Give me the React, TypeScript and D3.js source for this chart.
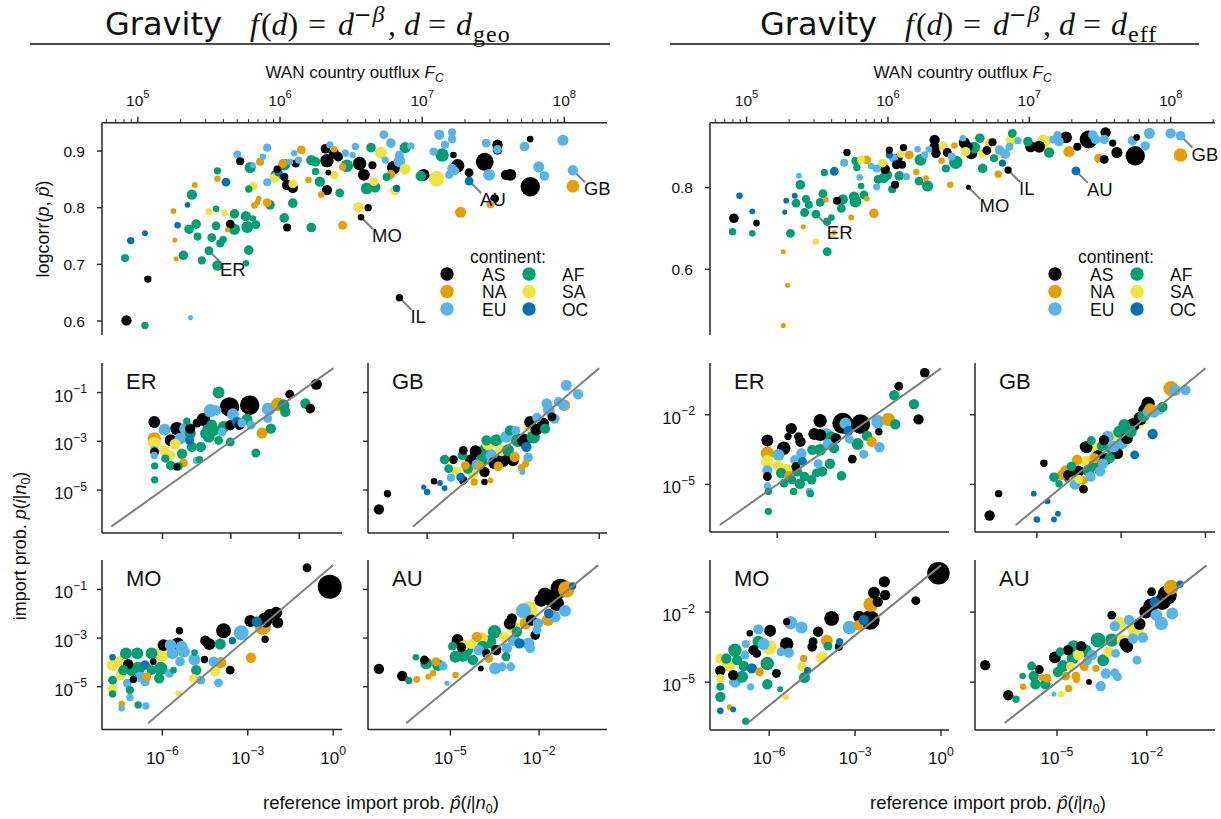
import React from "react";
import * as d3 from "d3";

type Pt = [number, number, string, number];
type Lab = [string, number, number];

// ---------- categories ----------
const continents = ["AS", "NA", "EU", "AF", "SA", "OC"];
const continentColors = ["#000000", "#E69F00", "#56B4E9", "#009E73", "#F0E442", "#0072B2"];

// ---------- tick labels ----------
const outfluxTicks = [5, 6, 7, 8];
const geoCorrTicks = [0.6, 0.7, 0.8, 0.9];
const effCorrTicks = [0.6, 0.8];
const geoProbTicksY = [-1, -3, -5];
const effProbTicksY = [-2, -5];
const geoTicksX = { ER: [-5, -3, -1], GB: [-6, -3, 0], MO: [-6, -3, 0], AU: [-5, -2] };
const effTicksX = { ER: [-5, -2], GB: [-6, -3, 0], MO: [-6, -3, 0], AU: [-5, -2] };

// ---------- top panels: [log10 F_C, logcorr, continent, size] ----------
const geoCorr: Pt[] = [
  [4.92,0.601,"AS",10],[5.05,0.592,"AF",6],[5.07,0.674,"AS",6],[4.91,0.711,"AF",7],[4.95,0.742,"OC",6],
  [5.05,0.755,"OC",4],[5.28,0.769,"OC",5],[5.35,0.805,"OC",4],[5.37,0.606,"EU",3],[5.25,0.794,"NA",4],
  [5.26,0.743,"NA",3],[5.27,0.710,"NA",3],[5.32,0.716,"AF",9],[5.36,0.762,"AF",9],[5.38,0.823,"AF",10],
  [5.40,0.840,"NA",4],[5.41,0.771,"AF",9],[5.42,0.749,"AF",7],[5.45,0.707,"AF",7],[5.50,0.724,"AF",8],
  [5.56,0.698,"AF",10],[5.50,0.793,"SA",6],[5.52,0.747,"AF",8],[5.55,0.798,"AF",5],[5.55,0.768,"AF",8],
  [5.56,0.865,"AF",6],[5.56,0.851,"NA",5],[5.58,0.737,"AF",7],[5.60,0.744,"AF",6],[5.61,0.791,"SA",5],
  [5.62,0.845,"OC",8],[5.63,0.761,"NA",3],[5.65,0.771,"AS",8],[5.68,0.789,"AF",9],[5.68,0.762,"AF",11],
  [5.70,0.894,"EU",7],[5.72,0.882,"AS",7],[5.76,0.702,"AF",5],[5.76,0.785,"AF",10],[5.77,0.766,"AF",12],
  [5.78,0.833,"AF",6],[5.78,0.725,"AF",9],[5.79,0.871,"AF",11],[5.81,0.875,"EU",4],[5.81,0.838,"SA",8],
  [5.81,0.781,"AF",5],[5.82,0.804,"NA",5],[5.83,0.770,"AF",8],[5.84,0.809,"NA",4],[5.85,0.816,"NA",4],
  [5.86,0.881,"NA",7],[5.88,0.890,"EU",5],[5.91,0.906,"EU",7],[5.91,0.845,"EU",7],[5.91,0.809,"NA",8],
  [5.93,0.805,"AF",9],[5.96,0.852,"SA",9],[5.97,0.858,"AF",10],[5.98,0.868,"AS",6],[5.99,0.862,"OC",7],
  [6.02,0.878,"NA",8],[6.03,0.854,"AS",7],[6.03,0.876,"AF",12],[6.03,0.782,"AF",9],[6.05,0.765,"AS",7],
  [6.05,0.840,"AS",10],[6.07,0.881,"EU",5],[6.09,0.842,"SA",8],[6.09,0.835,"AS",10],[6.09,0.808,"AF",9],
  [6.10,0.896,"EU",5],[6.11,0.878,"AS",7],[6.13,0.884,"EU",6],[6.15,0.902,"NA",8],[6.20,0.849,"NA",5],
  [6.22,0.765,"AF",9],[6.22,0.884,"AF",10],[6.25,0.881,"AF",9],[6.25,0.864,"AF",6],[6.28,0.846,"AF",10],
  [6.29,0.823,"NA",5],[6.32,0.904,"AS",9],[6.33,0.831,"AS",10],[6.33,0.883,"AS",14],[6.34,0.862,"AS",4],
  [6.35,0.911,"EU",6],[6.38,0.858,"SA",8],[6.38,0.903,"NA",5],[6.38,0.896,"AS",10],[6.41,0.890,"AS",9],
  [6.42,0.826,"AF",8],[6.44,0.872,"NA",6],[6.44,0.769,"NA",8],[6.46,0.896,"EU",6],[6.47,0.874,"AF",13],
  [6.51,0.893,"EU",5],[6.53,0.908,"EU",6],[6.56,0.878,"AS",14],[6.57,0.783,"AS",5],[6.55,0.801,"SA",10],
  [6.59,0.858,"AS",12],[6.62,0.800,"AS",6],[6.61,0.834,"AF",12],[6.64,0.906,"AF",9],[6.65,0.875,"AS",7],
  [6.66,0.846,"SA",8],[6.67,0.836,"AF",10],[6.71,0.897,"SA",12],[6.73,0.929,"EU",8],[6.75,0.854,"AF",7],
  [6.74,0.884,"EU",6],[6.78,0.914,"EU",9],[6.78,0.859,"NA",8],[6.80,0.871,"AS",14],[6.81,0.831,"SA",10],
  [6.82,0.834,"OC",6],[6.84,0.882,"EU",12],[6.84,0.893,"EU",8],[6.88,0.868,"SA",11],[6.88,0.906,"AF",11],
  [6.92,0.909,"EU",6],[6.99,0.856,"AF",10],[7.01,0.858,"AS",12],[7.10,0.851,"SA",17],[7.08,0.899,"EU",7],
  [7.12,0.929,"EU",10],[7.14,0.893,"AF",14],[7.16,0.911,"EU",7],[7.19,0.858,"EU",7],[7.21,0.921,"EU",7],
  [7.21,0.869,"EU",9],[7.21,0.933,"EU",7],[7.22,0.893,"AS",5],[7.23,0.865,"EU",8],[7.25,0.874,"AS",14],
  [7.27,0.792,"NA",11],[7.33,0.847,"OC",8],[7.33,0.862,"AS",8],[7.44,0.881,"AS",20],[7.45,0.914,"EU",8],
  [7.47,0.858,"EU",12],[7.48,0.806,"NA",7],[7.51,0.816,"AS",8],[7.53,0.911,"AS",10],[7.53,0.902,"AS",9],
  [7.53,0.903,"EU",8],[7.59,0.858,"AS",10],[7.62,0.858,"AS",12],[7.72,0.908,"EU",9],[7.76,0.837,"AS",22],
  [7.76,0.921,"AS",5],[7.82,0.872,"EU",11],[7.86,0.856,"EU",9],[7.99,0.919,"EU",11],[8.06,0.866,"EU",10],
  [8.06,0.838,"NA",13],[6.84,0.641,"AS",6],
];
const geoLabels: Lab[] = [["ER",5.50,0.724],["MO",6.57,0.783],["IL",6.84,0.641],["AU",7.33,0.847],["GB",8.06,0.866]];

const effCorr: Pt[] = [
  [4.91,0.725,"AS",9],[4.90,0.692,"AF",6],[4.95,0.780,"OC",5],[5.04,0.742,"OC",4],[5.07,0.713,"AS",5],
  [5.04,0.688,"AF",5],[5.26,0.643,"NA",3],[5.26,0.462,"NA",3],[5.29,0.561,"NA",3],[5.27,0.740,"OC",3],
  [5.28,0.768,"OC",4],[5.31,0.688,"AF",8],[5.34,0.780,"OC",4],[5.35,0.762,"AF",8],[5.37,0.829,"EU",4],
  [5.38,0.807,"AF",9],[5.41,0.739,"AF",8],[5.40,0.704,"NA",3],[5.42,0.772,"AF",7],[5.44,0.758,"AF",7],
  [5.49,0.668,"SA",5],[5.49,0.735,"AF",8],[5.52,0.764,"AF",8],[5.54,0.785,"AF",8],[5.55,0.837,"AF",6],
  [5.56,0.770,"NA",4],[5.57,0.643,"AF",8],[5.57,0.717,"AF",7],[5.60,0.727,"AF",5],[5.60,0.684,"SA",4],
  [5.62,0.840,"OC",8],[5.62,0.690,"NA",3],[5.64,0.768,"AS",7],[5.67,0.749,"AF",8],[5.68,0.771,"AF",10],
  [5.69,0.861,"EU",7],[5.71,0.886,"AS",6],[5.74,0.727,"NA",4],[5.76,0.778,"AF",10],[5.77,0.766,"AF",12],
  [5.77,0.865,"AF",7],[5.78,0.849,"AF",6],[5.81,0.868,"SA",7],[5.80,0.825,"EU",5],[5.81,0.804,"AF",5],
  [5.83,0.782,"AF",8],[5.85,0.868,"NA",8],[5.85,0.773,"NA",4],[5.88,0.853,"EU",5],[5.90,0.737,"NA",9],
  [5.92,0.847,"EU",7],[5.93,0.820,"AF",8],[5.92,0.802,"EU",6],[5.96,0.860,"SA",8],[5.97,0.824,"AF",10],
  [5.98,0.845,"AS",9],[5.99,0.831,"AF",11],[6.01,0.880,"OC",6],[6.01,0.892,"AS",6],[6.03,0.796,"AF",7],
  [6.04,0.872,"EU",8],[6.05,0.807,"AS",7],[6.06,0.856,"AS",8],[6.07,0.872,"AS",9],[6.08,0.829,"AF",9],
  [6.09,0.882,"SA",6],[6.10,0.856,"AS",7],[6.11,0.898,"AS",6],[6.13,0.827,"EU",6],[6.15,0.880,"NA",8],
  [6.20,0.838,"NA",5],[6.21,0.894,"EU",5],[6.22,0.816,"AF",8],[6.23,0.868,"AF",12],[6.26,0.880,"EU",6],
  [6.27,0.823,"NA",4],[6.28,0.804,"AF",11],[6.29,0.894,"EU",5],[6.33,0.917,"AS",10],[6.33,0.899,"AS",10],
  [6.34,0.884,"AS",9],[6.38,0.866,"NA",5],[6.39,0.902,"SA",8],[6.41,0.847,"AF",7],[6.42,0.886,"AS",8],
  [6.44,0.807,"NA",5],[6.45,0.876,"EU",7],[6.47,0.903,"NA",5],[6.48,0.862,"AF",14],[6.53,0.921,"EU",5],
  [6.54,0.910,"AS",11],[6.55,0.888,"SA",9],[6.56,0.900,"AS",11],[6.59,0.884,"AS",12],[6.61,0.898,"AF",12],
  [6.65,0.921,"AF",9],[6.57,0.801,"AS",3],[6.67,0.847,"AF",9],[6.67,0.884,"SA",8],[6.70,0.891,"AS",8],
  [6.72,0.909,"SA",10],[6.74,0.911,"AS",7],[6.75,0.872,"AF",7],[6.78,0.833,"NA",6],[6.79,0.892,"EU",9],
  [6.80,0.886,"SA",11],[6.81,0.860,"OC",6],[6.83,0.882,"EU",9],[6.85,0.843,"AS",6],[6.87,0.918,"SA",10],
  [6.88,0.933,"AF",8],[6.86,0.900,"EU",7],[6.92,0.915,"EU",6],[6.99,0.913,"AF",9],[7.01,0.900,"AS",11],
  [7.07,0.900,"AS",12],[7.10,0.913,"SA",15],[7.14,0.886,"AF",10],[7.17,0.918,"EU",7],[7.20,0.929,"EU",7],
  [7.21,0.913,"EU",9],[7.26,0.923,"AS",12],[7.28,0.888,"NA",11],[7.33,0.841,"OC",8],[7.34,0.900,"AS",7],
  [7.42,0.918,"AS",20],[7.45,0.929,"EU",9],[7.47,0.918,"EU",9],[7.49,0.872,"NA",8],[7.53,0.869,"AS",8],
  [7.53,0.918,"EU",9],[7.54,0.935,"AS",10],[7.59,0.909,"AS",6],[7.62,0.886,"AS",11],[7.73,0.915,"EU",9],
  [7.76,0.923,"AS",5],[7.75,0.878,"AS",22],[7.82,0.902,"EU",9],[7.85,0.933,"EU",11],[8.00,0.933,"EU",10],
  [8.07,0.927,"EU",9],[8.07,0.880,"NA",14],
];
const effLabels: Lab[] = [["ER",5.49,0.735],["MO",6.57,0.801],["IL",6.85,0.843],["AU",7.33,0.841],["GB",8.07,0.927]];

// ---------- small panels: [log10 ref prob, log10 import prob, continent, size] ----------
const geoER: Pt[] = [
  [-5.24,-2.21,"AS",12],[-5.24,-2.90,"NA",14],[-5.24,-3.07,"SA",13],[-5.24,-3.37,"EU",8],[-5.24,-3.58,"EU",6],
  [-5.23,-4.01,"AF",6],[-5.23,-4.58,"AF",6],[-5.23,-3.44,"AS",8],[-4.94,-2.52,"EU",12],[-4.95,-3.37,"SA",10],
  [-4.92,-3.71,"AF",7],[-4.78,-3.58,"SA",10],[-4.76,-3.99,"AF",9],[-4.76,-2.96,"AS",12],[-4.63,-3.12,"SA",11],
  [-4.58,-2.48,"AS",14],[-4.53,-4.03,"AF",7],[-4.48,-2.89,"EU",12],[-4.43,-3.51,"AF",10],[-4.39,-3.89,"NA",8],
  [-4.34,-2.48,"EU",12],[-4.29,-2.18,"AF",6],[-4.21,-2.96,"OC",8],[-4.19,-2.68,"AF",11],[-4.14,-3.23,"AF",10],
  [-4.01,-3.78,"EU",6],[-3.92,-3.75,"AF",6],[-3.88,-3.23,"AF",10],[-3.80,-2.10,"AS",14],[-3.75,-2.68,"AF",10],
  [-3.65,-2.82,"AF",12],[-3.60,-1.75,"EU",14],[-3.51,-2.55,"AF",12],[-3.43,-1.73,"EU",10],[-3.36,-1.00,"AF",12],
  [-3.36,-2.96,"AF",8],[-3.26,-2.62,"EU",8],[-3.21,-2.41,"AF",12],[-3.04,-1.59,"AS",22],[-3.02,-2.34,"AS",10],
  [-3.02,-3.03,"AF",8],[-2.94,-1.89,"EU",12],[-2.82,-2.21,"OC",10],[-2.75,-2.34,"AS",9],[-2.53,-2.10,"AF",11],
  [-2.45,-1.52,"AS",22],[-2.41,-2.34,"EU",8],[-2.27,-3.48,"AF",8],[-2.09,-2.66,"NA",11],[-1.92,-2.07,"EU",8],
  [-1.90,-1.68,"EU",14],[-1.83,-2.48,"AF",10],[-1.63,-1.48,"NA",14],[-1.46,-1.52,"AF",12],[-1.41,-1.79,"AF",10],
  [-1.28,-1.07,"AS",8],[-0.82,-1.45,"AF",10],[-0.68,-1.66,"AS",9],[-0.50,-0.66,"AS",11],[-4.58,-4.05,"AS",6],
  [-3.99,-2.25,"AS",8],[-4.19,-2.48,"AS",10],[-3.70,-2.48,"AF",8],[-3.56,-2.32,"AF",10],[-2.68,-2.25,"EU",8],
];
const geoGB: Pt[] = [
  [-7.68,-5.79,"AS",10],[-7.38,-5.15,"AS",6],[-6.12,-4.88,"OC",3],[-6.00,-5.08,"OC",5],[-5.76,-4.64,"AS",5],
  [-5.55,-4.71,"OC",4],[-5.39,-3.75,"AF",9],[-5.39,-4.92,"OC",4],[-5.17,-4.49,"EU",7],[-5.08,-3.75,"AS",8],
  [-4.98,-4.23,"SA",9],[-4.77,-3.58,"AF",9],[-4.74,-4.60,"AS",8],[-4.83,-4.47,"OC",8],[-4.58,-4.12,"AF",10],
  [-4.47,-3.78,"AS",12],[-4.40,-4.33,"SA",11],[-4.36,-4.67,"NA",6],[-4.31,-3.41,"AS",12],[-4.27,-3.95,"EU",10],
  [-4.17,-3.99,"NA",8],[-4.09,-3.75,"AF",12],[-4.00,-4.26,"AS",10],[-4.00,-4.67,"AS",5],[-3.95,-3.34,"AF",14],
  [-3.86,-3.10,"SA",14],[-3.76,-3.58,"EU",12],[-3.66,-3.89,"AS",12],[-3.59,-2.96,"AF",12],[-3.52,-4.03,"NA",9],
  [-3.41,-3.37,"SA",12],[-3.36,-3.78,"AS",14],[-3.25,-2.82,"EU",12],[-3.18,-3.37,"AF",12],[-3.11,-2.55,"AF",10],
  [-3.01,-3.78,"AS",12],[-2.95,-3.64,"NA",10],[-2.84,-2.96,"AF",14],[-2.71,-4.08,"NA",6],[-2.68,-4.26,"EU",4],
  [-2.64,-2.96,"AS",14],[-2.54,-3.23,"OC",10],[-2.48,-3.67,"EU",9],[-2.44,-2.38,"SA",12],[-2.41,-2.21,"AS",12],
  [-2.30,-2.82,"AF",14],[-2.19,-2.52,"AS",12],[-2.17,-2.03,"EU",9],[-1.96,-2.27,"AS",12],[-1.89,-2.48,"AF",10],
  [-1.83,-1.45,"EU",10],[-1.76,-1.73,"EU",12],[-1.65,-2.00,"AS",8],[-1.56,-2.07,"EU",10],[-1.22,-1.52,"NA",12],
  [-1.24,-1.52,"EU",10],[-1.15,-0.70,"EU",11],[-0.74,-1.07,"EU",10],[-1.42,-1.38,"EU",9],[-5.25,-4.12,"AF",8],
  [-4.67,-3.99,"NA",8],[-3.79,-4.60,"NA",4],[-2.57,-3.92,"NA",6],[-3.93,-2.96,"AF",10],[-2.91,-2.55,"EU",8],
  [-4.74,-3.37,"AS",8],
];
const geoMO: Pt[] = [
  [-7.75,-3.79,"OC",5],[-7.75,-4.11,"SA",12],[-7.75,-4.73,"AF",8],[-7.75,-5.11,"SA",10],[-7.75,-5.30,"AF",6],
  [-7.46,-3.97,"SA",12],[-7.46,-4.52,"SA",10],[-7.43,-5.71,"NA",5],[-7.43,-5.89,"EU",5],[-7.28,-3.63,"AF",12],
  [-7.20,-4.07,"AS",10],[-7.14,-5.14,"AF",7],[-7.14,-5.44,"EU",6],[-7.08,-4.32,"AF",12],[-7.02,-4.70,"AS",6],
  [-7.23,-4.86,"EU",8],[-6.85,-5.75,"AF",6],[-6.85,-4.25,"AF",14],[-6.61,-4.79,"EU",9],[-6.61,-4.11,"OC",9],
  [-6.58,-5.79,"EU",6],[-6.55,-4.59,"NA",8],[-6.38,-3.63,"AF",12],[-6.38,-4.32,"AF",9],[-6.32,-3.97,"AS",5],
  [-6.11,-4.66,"AF",10],[-6.06,-4.25,"AF",14],[-6.02,-3.66,"SA",16],[-5.96,-3.29,"AS",12],[-5.75,-4.45,"EU",8],
  [-5.71,-3.29,"EU",12],[-5.64,-3.63,"EU",12],[-5.61,-4.32,"AF",5],[-5.46,-3.25,"AS",14],[-5.44,-5.27,"SA",4],
  [-5.38,-3.97,"EU",9],[-5.32,-3.36,"EU",12],[-5.24,-3.56,"EU",12],[-5.40,-2.70,"AS",6],[-4.88,-3.88,"EU",12],
  [-4.87,-3.60,"AF",5],[-4.81,-4.32,"AF",10],[-4.91,-4.66,"SA",8],[-4.65,-4.73,"EU",8],[-4.52,-3.88,"AS",6],
  [-4.49,-3.11,"AS",10],[-4.35,-3.25,"AS",12],[-4.20,-3.97,"EU",10],[-4.15,-4.34,"SA",11],[-4.03,-4.84,"EU",8],
  [-3.97,-3.25,"AF",11],[-3.95,-4.01,"NA",11],[-3.85,-2.70,"AS",16],[-3.62,-4.32,"AS",8],[-3.54,-3.11,"OC",6],
  [-3.23,-2.78,"EU",16],[-2.89,-3.81,"NA",10],[-2.91,-2.30,"AS",12],[-2.68,-2.33,"OC",10],[-2.47,-2.53,"NA",18],
  [-2.39,-3.05,"AS",6],[-2.39,-2.26,"AS",16],[-2.23,-2.05,"AS",12],[-2.00,-1.96,"AS",12],[-1.95,-2.37,"AS",11],
  [-0.92,-0.11,"AS",8],[-0.12,-0.89,"AS",28],[-6.88,-3.63,"AF",12],[-7.37,-4.32,"AF",10],[-6.79,-4.59,"EU",10],
];
const geoAU: Pt[] = [
  [-7.42,-4.27,"AS",10],[-6.63,-4.56,"AS",10],[-6.41,-4.75,"AF",6],[-6.17,-3.79,"AF",5],[-6.14,-4.70,"NA",5],
  [-5.88,-3.90,"AS",8],[-5.82,-4.04,"AF",12],[-5.75,-4.59,"NA",4],[-5.59,-4.45,"NA",5],[-5.49,-3.97,"NA",8],
  [-5.42,-4.11,"AF",12],[-5.25,-4.15,"EU",8],[-5.12,-4.86,"EU",3],[-4.83,-4.52,"NA",5],[-4.76,-3.08,"AS",12],
  [-4.93,-3.33,"AF",8],[-4.83,-3.77,"AF",12],[-4.57,-3.70,"AF",14],[-4.54,-3.30,"SA",10],[-4.43,-3.49,"AF",12],
  [-4.30,-3.25,"SA",9],[-4.24,-3.90,"AF",10],[-4.11,-2.95,"NA",10],[-3.93,-3.01,"SA",12],[-3.91,-3.36,"AF",12],
  [-3.78,-3.63,"AS",8],[-3.97,-4.25,"AS",4],[-3.71,-3.84,"NA",8],[-3.67,-3.15,"AF",14],[-3.51,-2.74,"AF",14],
  [-3.49,-4.25,"EU",12],[-3.45,-3.49,"AS",10],[-3.25,-4.18,"EU",8],[-3.18,-2.95,"SA",10],[-3.12,-3.77,"AF",8],
  [-3.09,-3.42,"EU",10],[-2.99,-2.40,"AS",12],[-2.96,-4.18,"EU",8],[-2.86,-3.08,"EU",12],[-2.92,-2.19,"AS",10],
  [-2.88,-2.56,"SA",14],[-2.75,-2.74,"AF",10],[-2.66,-3.22,"OC",10],[-2.53,-1.88,"EU",16],[-2.46,-2.40,"NA",12],
  [-2.36,-3.22,"EU",12],[-2.33,-1.82,"SA",18],[-2.30,-3.42,"EU",9],[-2.26,-2.26,"AS",11],[-2.13,-2.88,"AS",9],
  [-2.07,-2.67,"EU",8],[-1.93,-1.44,"AS",14],[-1.80,-1.23,"AS",16],[-1.67,-1.99,"OC",9],[-1.70,-2.26,"NA",12],
  [-1.54,-1.37,"AS",20],[-1.47,-2.12,"EU",12],[-1.28,-0.96,"AS",22],[-1.12,-1.88,"EU",12],[-1.08,-1.00,"NA",18],
  [-0.86,-0.86,"OC",6],[-1.41,-1.58,"AS",16],[-2.04,-2.40,"EU",10],[-4.04,-3.49,"EU",10],[-4.63,-3.38,"AS",9],
];
const effER: Pt[] = [
  [-5.30,-3.11,"AS",12],[-5.30,-3.66,"NA",14],[-5.30,-4.01,"SA",13],[-5.30,-4.40,"EU",10],[-5.30,-4.66,"AS",8],
  [-5.30,-5.06,"EU",6],[-5.27,-5.30,"AF",6],[-5.27,-6.16,"AF",6],[-4.98,-4.20,"SA",11],[-4.96,-3.73,"EU",12],
  [-4.88,-4.51,"AF",10],[-4.80,-3.44,"AS",14],[-4.79,-4.94,"AF",8],[-4.70,-4.37,"SA",12],[-4.67,-2.94,"AS",6],
  [-4.64,-4.63,"NA",9],[-4.57,-2.59,"AS",11],[-4.55,-4.80,"AF",8],[-4.50,-5.30,"AF",6],[-4.46,-3.94,"EU",9],
  [-4.43,-4.23,"AS",8],[-4.40,-4.44,"AF",10],[-4.35,-2.94,"AS",8],[-4.31,-4.97,"AF",10],[-4.29,-3.16,"AS",10],
  [-4.26,-3.66,"EU",10],[-4.23,-4.01,"OC",8],[-4.17,-4.66,"AF",9],[-4.02,-5.30,"EU",6],[-3.99,-5.40,"AF",6],
  [-3.95,-4.80,"AF",9],[-3.93,-3.51,"AF",10],[-3.87,-2.83,"AS",12],[-3.81,-4.51,"AF",8],[-3.75,-4.11,"EU",8],
  [-3.69,-2.26,"AS",14],[-3.69,-3.51,"AF",12],[-3.63,-4.44,"AF",10],[-3.51,-2.87,"EU",14],[-3.45,-3.26,"EU",10],
  [-3.39,-4.11,"AF",10],[-3.36,-2.97,"AF",12],[-3.27,-3.44,"AF",10],[-3.21,-3.01,"AS",10],[-3.04,-4.63,"AF",9],
  [-3.00,-2.37,"AS",24],[-2.92,-2.37,"EU",12],[-2.83,-2.69,"OC",9],[-2.80,-3.06,"EU",8],[-2.71,-3.91,"AS",8],
  [-2.55,-3.26,"AF",12],[-2.46,-2.40,"AS",22],[-2.36,-3.70,"EU",8],[-2.26,-2.91,"AF",10],[-2.12,-3.16,"NA",10],
  [-1.90,-2.73,"AS",6],[-1.93,-2.30,"EU",14],[-1.88,-3.40,"EU",10],[-1.61,-2.20,"NA",14],[-1.43,-1.16,"AF",10],
  [-1.40,-2.41,"AF",10],[-1.29,-0.77,"AS",8],[-0.83,-1.54,"AF",10],[-0.69,-2.20,"AS",10],[-0.50,-0.19,"AS",9],
  [-3.69,-2.87,"AS",12],
];
const effGB: Pt[] = [
  [-7.68,-6.34,"AS",10],[-7.36,-5.40,"AS",6],[-6.11,-5.40,"OC",4],[-6.00,-6.51,"OC",5],[-5.62,-5.73,"OC",4],
  [-5.75,-4.09,"AS",6],[-5.39,-4.69,"AF",9],[-5.39,-6.51,"OC",4],[-5.25,-6.26,"OC",4],[-5.21,-4.97,"AF",6],
  [-5.11,-4.59,"NA",10],[-4.98,-4.40,"NA",10],[-4.88,-4.59,"AS",10],[-4.84,-4.69,"AF",12],[-4.77,-4.23,"AF",9],
  [-4.70,-4.87,"SA",10],[-4.64,-5.01,"EU",10],[-4.57,-3.94,"NA",10],[-4.53,-4.44,"AS",12],[-4.36,-4.83,"NA",8],
  [-4.34,-5.20,"AS",8],[-4.29,-3.37,"AS",10],[-4.23,-4.01,"SA",12],[-4.16,-4.40,"AF",12],[-4.09,-4.66,"EU",10],
  [-4.06,-3.11,"AF",8],[-3.95,-4.16,"AF",12],[-3.89,-3.51,"SA",14],[-3.82,-3.77,"AS",12],[-3.75,-4.44,"EU",10],
  [-3.68,-3.34,"AF",10],[-3.61,-3.09,"AS",10],[-3.54,-3.91,"AS",12],[-3.48,-2.94,"EU",12],[-3.41,-3.87,"AF",10],
  [-3.34,-3.44,"AF",12],[-3.20,-2.94,"SA",14],[-3.14,-3.66,"AS",12],[-3.07,-2.73,"AF",12],[-2.97,-3.23,"EU",12],
  [-2.89,-2.44,"AF",12],[-2.79,-3.01,"AS",12],[-2.66,-2.73,"AF",12],[-2.59,-2.44,"AS",14],[-2.52,-3.73,"OC",8],
  [-2.43,-2.30,"SA",16],[-2.32,-2.16,"AS",14],[-2.21,-2.06,"AF",12],[-2.15,-1.80,"AS",14],[-2.04,-1.51,"AS",14],
  [-2.02,-1.87,"EU",12],[-1.88,-2.83,"OC",10],[-1.84,-1.87,"EU",12],[-1.98,-1.73,"NA",10],[-1.63,-1.77,"EU",10],
  [-1.53,-1.66,"AF",10],[-1.23,-0.87,"NA",16],[-1.09,-0.94,"EU",12],[-0.71,-0.94,"EU",10],[-4.50,-4.77,"SA",8],
  [-3.27,-3.37,"EU",12],[-4.23,-3.40,"AS",12],[-3.95,-3.87,"NA",10],[-3.65,-4.11,"EU",10],
];
const effMO: Pt[] = [
  [-7.71,-3.99,"SA",10],[-7.71,-4.51,"AS",10],[-7.71,-4.84,"SA",8],[-7.71,-5.20,"AF",7],[-7.71,-5.63,"AF",10],
  [-7.71,-6.23,"OC",5],[-7.43,-4.27,"SA",14],[-7.39,-6.07,"NA",4],[-7.26,-6.17,"OC",4],[-7.26,-4.70,"AS",10],
  [-7.20,-4.99,"EU",12],[-7.20,-3.63,"AF",14],[-7.12,-4.06,"AF",10],[-6.95,-4.77,"AF",12],[-6.89,-4.31,"AF",10],
  [-6.85,-3.84,"EU",8],[-6.82,-3.37,"EU",7],[-6.68,-2.91,"AS",5],[-6.65,-5.20,"EU",6],[-6.61,-4.41,"OC",10],
  [-6.55,-3.63,"AS",10],[-6.44,-3.77,"AS",8],[-6.38,-2.74,"EU",10],[-6.38,-3.27,"AF",12],[-6.34,-4.56,"NA",8],
  [-6.20,-3.37,"EU",12],[-6.07,-5.09,"AF",10],[-6.07,-4.20,"AF",14],[-6.00,-3.51,"SA",16],[-5.97,-2.80,"AS",12],
  [-5.75,-4.63,"AS",8],[-5.62,-5.30,"AF",4],[-5.43,-5.63,"SA",5],[-5.39,-3.37,"AS",14],[-5.32,-3.74,"EU",10],
  [-5.25,-2.46,"EU",14],[-5.39,-2.41,"AS",6],[-4.87,-2.66,"EU",12],[-4.87,-4.34,"SA",8],[-4.80,-3.99,"NA",6],
  [-4.77,-4.80,"AF",11],[-4.66,-4.51,"OC",6],[-4.50,-3.49,"AS",9],[-4.47,-3.27,"AS",8],[-4.29,-2.84,"AS",10],
  [-4.16,-3.94,"SA",12],[-3.99,-3.23,"NA",12],[-3.95,-3.46,"AF",8],[-3.82,-2.27,"AS",16],[-3.57,-3.49,"AS",7],
  [-3.54,-3.27,"OC",6],[-3.20,-2.66,"EU",14],[-2.89,-2.56,"NA",10],[-2.86,-2.20,"AS",12],[-2.70,-2.34,"OC",10],
  [-2.48,-2.34,"AS",22],[-2.45,-1.67,"NA",16],[-2.34,-1.17,"AS",12],[-2.21,-1.56,"AS",10],[-1.98,-0.70,"AS",11],
  [-1.95,-1.27,"AS",10],[-0.88,-1.51,"AS",8],[-0.09,-0.34,"AS",26],[-6.82,-6.67,"AF",6],[-7.50,-3.99,"AF",10],
  [-5.59,-3.70,"EU",8],
];
const effAU: Pt[] = [
  [-7.40,-4.27,"AS",10],[-6.63,-5.56,"AS",10],[-6.37,-5.73,"AF",6],[-6.15,-4.74,"AF",5],[-6.13,-5.20,"NA",5],
  [-5.85,-4.31,"AF",8],[-5.78,-4.74,"AF",10],[-5.72,-5.09,"AF",10],[-5.59,-4.46,"AS",8],[-5.50,-4.80,"NA",5],
  [-5.39,-5.09,"AF",10],[-5.33,-4.84,"NA",8],[-5.10,-5.51,"EU",3],[-5.07,-3.94,"AS",12],[-4.97,-4.56,"AF",10],
  [-4.90,-3.70,"AF",8],[-4.87,-5.51,"SA",5],[-4.80,-4.31,"AF",12],[-4.71,-4.74,"NA",8],[-4.63,-3.63,"AS",10],
  [-4.54,-4.34,"SA",9],[-4.48,-3.99,"AF",12],[-4.45,-3.46,"AF",12],[-4.37,-4.74,"NA",8],[-4.28,-3.84,"SA",11],
  [-4.19,-3.46,"AS",10],[-4.09,-4.34,"NA",8],[-4.06,-3.66,"AF",14],[-3.98,-4.09,"EU",8],[-3.93,-4.99,"AS",4],
  [-3.83,-3.84,"EU",10],[-3.70,-4.41,"NA",6],[-3.63,-3.20,"AF",16],[-3.54,-5.17,"EU",10],[-3.46,-4.06,"AF",12],
  [-3.37,-4.63,"EU",10],[-3.28,-3.70,"SA",10],[-3.17,-3.20,"AF",14],[-3.07,-2.60,"EU",10],[-3.07,-4.60,"EU",8],
  [-3.04,-3.77,"EU",8],[-2.98,-4.77,"EU",8],[-2.91,-2.49,"SA",14],[-2.81,-3.20,"SA",12],[-2.72,-3.37,"AS",12],
  [-2.65,-3.49,"AS",12],[-2.59,-2.34,"EU",10],[-2.46,-3.13,"EU",10],[-2.37,-2.74,"SA",18],[-2.33,-4.06,"EU",8],
  [-2.24,-2.51,"AS",12],[-2.13,-3.09,"EU",10],[-2.03,-1.99,"AS",14],[-1.87,-1.74,"AS",16],[-1.84,-1.13,"AS",8],
  [-1.74,-1.56,"OC",10],[-1.68,-2.13,"EU",12],[-1.51,-2.49,"EU",14],[-1.48,-1.56,"AS",18],[-1.32,-1.27,"AS",22],
  [-1.15,-2.06,"EU",12],[-1.19,-0.94,"NA",16],[-0.89,-0.80,"OC",6],[-4.61,-5.27,"NA",6],[-4.35,-4.91,"NA",5],
  [-3.17,-2.13,"AS",8],
];

// ---------- layout (positions/styles) ----------
const AX = "#262626";
const SANS = "'Liberation Sans', Arial, Helvetica, sans-serif";
const SERIF = "'Liberation Serif', 'Times New Roman', serif";
const color = d3.scaleOrdinal<string, string>().domain(continents).range(continentColors);
const radius = d3.scaleLinear().domain([0, 28]).range([1.4, 12]);

type Frame = [number, number, number, number];

function Pow({ x, y, exp, size, anchor }: { x: number; y: number; exp: string; size: number; anchor: string }) {
  return (
    <text x={x} y={y} fontSize={size} textAnchor={anchor} fontFamily={SANS} fill="#111">
      <tspan>10</tspan>
      <tspan dy={-size * 0.5} fontSize={size * 0.72}>{exp}</tspan>
    </text>
  );
}

function expLabel(e: number) {
  return e < 0 ? "\u2212" + Math.abs(e) : String(e);
}

function TopPanel({ data, labels, corrTicks, frame, xDom, yDom, legendDx }: {
  data: Pt[]; labels: Lab[]; corrTicks: number[]; frame: Frame; xDom: [number, number]; yDom: [number, number]; legendDx: number;
}) {
  const [x0, x1, y0, y1] = frame;
  const xs = d3.scaleLog().domain([10 ** xDom[0], 10 ** xDom[1]]).range([x0, x1]);
  const ys = d3.scaleLinear().domain(yDom).range([y1, y0]);
  const ticks = xs.ticks();
  const pts = [...data].sort((a, b) => b[3] - a[3]);
  const cols = [continents.slice(0, 3), continents.slice(3, 6)];
  return (
    <g>
      <line x1={x0} x2={x1} y1={y0} y2={y0} stroke={AX} strokeWidth={1.5} />
      <line x1={x0} x2={x0} y1={y0} y2={y1} stroke={AX} strokeWidth={1.5} />
      {ticks.map((t, i) => {
        const lg = Math.log10(t);
        const major = Math.abs(lg - Math.round(lg)) < 1e-6;
        const px = xs(t);
        return <line key={i} x1={px} x2={px} y1={y0} y2={y0 - (major ? 6 : 3.5)} stroke={AX} strokeWidth={major ? 1.4 : 1} />;
      })}
      {outfluxTicks.map((e) => (
        <Pow key={e} x={xs(10 ** e)} y={y0 - 16.5} exp={String(e)} size={15.5} anchor="middle" />
      ))}
      {corrTicks.map((c) => (
        <g key={c}>
          <line x1={x0 - 5} x2={x0} y1={ys(c)} y2={ys(c)} stroke={AX} strokeWidth={1.4} />
          <text x={x0 - 17} y={ys(c) + 5.5} fontSize={15.5} textAnchor="end" fontFamily={SANS} fill="#111">{c.toFixed(1)}</text>
        </g>
      ))}
      <text x={(x0 + x1) / 2} y={78} fontSize={17} textAnchor="middle" fontFamily={SANS} fill="#111">
        WAN country outflux <tspan fontStyle="italic">F</tspan><tspan fontStyle="italic" fontSize={12} dy={4}>C</tspan>
      </text>
      {labels.map(([code, f, c]) => {
        const px = xs(10 ** f), py = ys(c);
        return <line key={code} x1={px} y1={py} x2={px + 12} y2={py + 12} stroke="#808080" strokeWidth={2} />;
      })}
      {pts.map((p, i) => (
        <circle key={i} cx={xs(10 ** p[0])} cy={ys(p[1])} r={radius(p[3])} fill={color(p[2])} />
      ))}
      {labels.map(([code, f, c]) => {
        const px = xs(10 ** f), py = ys(c);
        return <text key={code} x={px + 11} y={py + 25} fontSize={18.5} fontFamily={SANS} fill="#111">{code}</text>;
      })}
      <g transform={`translate(${legendDx},0)`}>
        <text x={508} y={263} fontSize={17.5} textAnchor="middle" fontFamily={SANS} fill="#111">continent:</text>
        {cols.map((col, ci) => col.map((cc, ri) => (
          <g key={cc}>
            <circle cx={447 + ci * 82} cy={274 + ri * 17.5} r={6.7} fill={color(cc)} />
            <text x={482 + ci * 80} y={280.5 + ri * 17.5} fontSize={17.5} fontFamily={SANS} fill="#111">{cc}</text>
          </g>
        )))}
      </g>
    </g>
  );
}

function SmallPanel({ data, name, frame, xDom, yDom, xTicks, yTicks, xLabels, yLabels, diag }: {
  data: Pt[]; name: string; frame: Frame; xDom: [number, number]; yDom: [number, number];
  xTicks: number[]; yTicks: number[]; xLabels: boolean; yLabels: boolean; diag: [number, number];
}) {
  const [x0, x1, y0, y1] = frame;
  const xs = d3.scaleLog().domain([10 ** xDom[0], 10 ** xDom[1]]).range([x0, x1]);
  const ys = d3.scaleLog().domain([10 ** yDom[0], 10 ** yDom[1]]).range([y1, y0]);
  const pts = [...data].sort((a, b) => b[3] - a[3]);
  const d0 = 10 ** diag[0], d1 = 10 ** diag[1];
  return (
    <g>
      <line x1={x0} x2={x1} y1={y1} y2={y1} stroke={AX} strokeWidth={1.5} />
      <line x1={x0} x2={x0} y1={y0} y2={y1} stroke={AX} strokeWidth={1.5} />
      {xTicks.map((t) => (
        <g key={t}>
          <line x1={xs(10 ** t)} x2={xs(10 ** t)} y1={y1} y2={y1 + 6} stroke={AX} strokeWidth={1.4} />
          {xLabels && <Pow x={xs(10 ** t)} y={y1 + 34} exp={expLabel(t)} size={17} anchor="middle" />}
        </g>
      ))}
      {yTicks.map((t) => (
        <g key={t}>
          <line x1={x0 - 5} x2={x0} y1={ys(10 ** t)} y2={ys(10 ** t)} stroke={AX} strokeWidth={1.4} />
          {yLabels && <Pow x={x0 - 15} y={ys(10 ** t) + 9} exp={expLabel(t)} size={17} anchor="end" />}
        </g>
      ))}
      {pts.map((p, i) => (
        <circle key={i} cx={xs(10 ** p[0])} cy={ys(10 ** p[1])} r={radius(p[3])} fill={color(p[2])} />
      ))}
      <line x1={xs(d0)} y1={ys(d0)} x2={xs(d1)} y2={ys(d1)} stroke="#808080" strokeWidth={2} />
      <text x={x0 + 24} y={y0 + 25.5} fontSize={22} fontFamily={SANS} fill="#111">{name}</text>
    </g>
  );
}

function Title({ x, sub, lineX }: { x: number; sub: string; lineX: [number, number] }) {
  const m = x + 145;
  return (
    <g>
      <text x={x} y={35} fontSize={32} fontFamily="'DejaVu Sans', sans-serif" fill="#111">Gravity</text>
      <text y={35} fontSize={32} fontFamily={SERIF} fill="#111">
        <tspan x={m} fontStyle="italic">f</tspan>
        <tspan dx={2}>(</tspan>
        <tspan fontStyle="italic">d</tspan>
        <tspan>)</tspan>
        <tspan x={m + 58}>=</tspan>
        <tspan x={m + 88} fontStyle="italic">d</tspan>
        <tspan x={m + 104} dy={-13} fontSize={21} fontFamily="'DejaVu Sans', sans-serif">{"\u2212"}</tspan>
        <tspan dx={1} fontSize={24} fontStyle="italic">{"\u03B2"}</tspan>
        <tspan x={m + 138} dy={13}>,</tspan>
        <tspan x={m + 154} fontStyle="italic">d</tspan>
        <tspan x={m + 178}>=</tspan>
        <tspan x={m + 206} fontStyle="italic">d</tspan>
        <tspan x={m + 223} dy={7} fontSize={24} letterSpacing={1}>{sub}</tspan>
      </text>
      <line x1={lineX[0]} x2={lineX[1]} y1={44} y2={44} stroke="#111" strokeWidth={1.5} />
    </g>
  );
}

export default function App() {
  const geoSmall = [
    { name: "ER", data: geoER, frame: [102, 342, 363, 533] as Frame, xDom: [-6.77, 0.25] as [number, number], xl: false, yl: true },
    { name: "GB", data: geoGB, frame: [368, 607, 363, 533] as Frame, xDom: [-8.06, 0.27] as [number, number], xl: false, yl: false },
    { name: "MO", data: geoMO, frame: [102, 342, 560, 729.5] as Frame, xDom: [-8.12, 0.31] as [number, number], xl: true, yl: true },
    { name: "AU", data: geoAU, frame: [368, 607, 560, 729.5] as Frame, xDom: [-7.79, 0.30] as [number, number], xl: true, yl: false },
  ];
  const effSmall = [
    { name: "ER", data: effER, frame: [710, 949, 363, 532] as Frame, xDom: [-7.05, 0.24] as [number, number], xl: false, yl: true },
    { name: "GB", data: effGB, frame: [975, 1215, 363, 532] as Frame, xDom: [-8.2, 0.34] as [number, number], xl: false, yl: false },
    { name: "MO", data: effMO, frame: [710, 949, 560, 730] as Frame, xDom: [-8.07, 0.28] as [number, number], xl: true, yl: true },
    { name: "AU", data: effAU, frame: [975, 1215, 560, 730] as Frame, xDom: [-7.74, 0.28] as [number, number], xl: true, yl: false },
  ];
  return (
    <svg width={1221} height={819} viewBox="0 0 1221 819" style={{ position: "absolute", left: 0, top: 0, background: "#fff" }}>
      <rect x={0} y={0} width={1221} height={819} fill="#fff" />
      <Title x={105} sub="geo" lineX={[30, 610]} />
      <Title x={760} sub="eff" lineX={[670, 1199]} />
      <TopPanel data={geoCorr} labels={geoLabels} corrTicks={geoCorrTicks} frame={[102, 607, 122.7, 335]} xDom={[4.748, 8.30]} yDom={[0.5753, 0.95]} legendDx={0} />
      <TopPanel data={effCorr} labels={effLabels} corrTicks={effCorrTicks} frame={[710, 1215, 122.7, 335]} xDom={[4.741, 8.314]} yDom={[0.439, 0.959]} legendDx={608} />
      <text transform="translate(49,229) rotate(-90)" fontSize={18} textAnchor="middle" fontFamily={SANS} fill="#111">
        logcorr(<tspan fontStyle="italic">p</tspan>, <tspan fontStyle="italic">{"p\u0302"}</tspan>)
      </text>
      <text transform="translate(26,546) rotate(-90)" fontSize={18} textAnchor="middle" fontFamily={SANS} fill="#111">
        import prob. <tspan fontStyle="italic">p</tspan>(<tspan fontStyle="italic">i</tspan>|<tspan fontStyle="italic">n</tspan><tspan fontSize={12.5} dy={4}>0</tspan><tspan dy={-4}>)</tspan>
      </text>
      {geoSmall.map((p) => (
        <SmallPanel key={"g" + p.name} data={p.data} name={p.name} frame={p.frame} xDom={p.xDom} yDom={[-6.76, 0.21]}
          xTicks={geoTicksX[p.name as keyof typeof geoTicksX]} yTicks={geoProbTicksY} xLabels={p.xl} yLabels={p.yl} diag={[-6.5, 0]} />
      ))}
      {effSmall.map((p) => (
        <SmallPanel key={"e" + p.name} data={p.data} name={p.name} frame={p.frame} xDom={p.xDom} yDom={[-7.05, 0.23]}
          xTicks={effTicksX[p.name as keyof typeof effTicksX]} yTicks={effProbTicksY} xLabels={p.xl} yLabels={p.yl} diag={[-6.75, 0]} />
      ))}
      {[381, 988].map((cx) => (
        <text key={cx} x={cx} y={809} fontSize={18.5} textAnchor="middle" fontFamily={SANS} fill="#111">
          reference import prob. <tspan fontStyle="italic">{"p\u0302"}</tspan>(<tspan fontStyle="italic">i</tspan>|<tspan fontStyle="italic">n</tspan><tspan fontSize={12.5} dy={4}>0</tspan><tspan dy={-4}>)</tspan>
        </text>
      ))}
    </svg>
  );
}
